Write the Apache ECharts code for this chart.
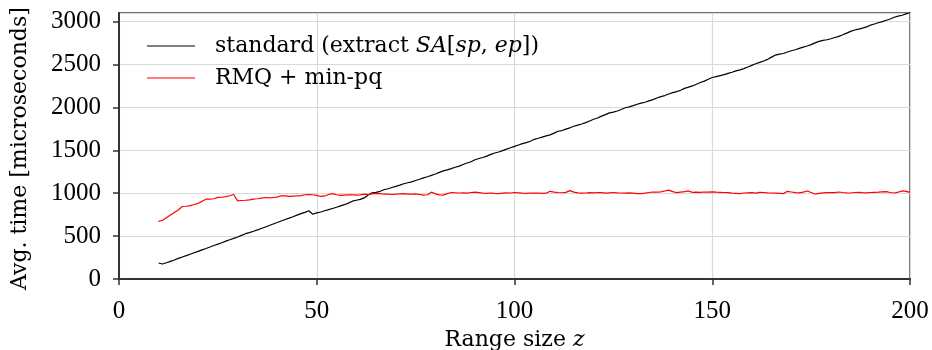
<!DOCTYPE html>
<html>
<head>
<meta charset="utf-8">
<script src="https://cdn.jsdelivr.net/npm/echarts@6/dist/echarts.min.js"></script>
<style>
  html, body { margin: 0; padding: 0; background: #fff; }
  #main { width: 932px; height: 350px; }
</style>
</head>
<body>
<div id="main"></div>
<script>
// range size z (x axis)
var rangeSize = [
  10, 11, 12, 13, 14, 15, 16, 17, 18, 19, 20, 21, 22, 23, 24, 25, 26, 27, 28, 29,
  30, 31, 32, 33, 34, 35, 36, 37, 38, 39, 40, 41, 42, 43, 44, 45, 46, 47, 48, 49,
  50, 51, 52, 53, 54, 55, 56, 57, 58, 59, 60, 61, 62, 63, 64, 65, 66, 67, 68, 69,
  70, 71, 72, 73, 74, 75, 76, 77, 78, 79, 80, 81, 82, 83, 84, 85, 86, 87, 88, 89,
  90, 91, 92, 93, 94, 95, 96, 97, 98, 99, 100, 101, 102, 103, 104, 105, 106, 107, 108, 109,
  110, 111, 112, 113, 114, 115, 116, 117, 118, 119, 120, 121, 122, 123, 124, 125, 126, 127, 128, 129,
  130, 131, 132, 133, 134, 135, 136, 137, 138, 139, 140, 141, 142, 143, 144, 145, 146, 147, 148, 149,
  150, 151, 152, 153, 154, 155, 156, 157, 158, 159, 160, 161, 162, 163, 164, 165, 166, 167, 168, 169,
  170, 171, 172, 173, 174, 175, 176, 177, 178, 179, 180, 181, 182, 183, 184, 185, 186, 187, 188, 189,
  190, 191, 192, 193, 194, 195, 196, 197, 198, 199, 200
];

// standard (extract SA[sp,ep])
var standardTime = [
  186, 175, 190, 206, 222, 240, 256, 272, 289, 306, 322, 340, 356, 373, 391, 407, 423, 441, 458, 474,
  490, 509, 528, 541, 556, 572, 589, 606, 623, 641, 658, 676, 693, 709, 726, 744, 762, 776, 795, 755,
  770, 781, 795, 808, 822, 836, 852, 866, 884, 907, 918, 928, 945, 980, 1005, 1010, 1022, 1040, 1052, 1066,
  1080, 1094, 1110, 1122, 1132, 1148, 1162, 1178, 1192, 1208, 1224, 1242, 1260, 1272, 1286, 1302, 1316, 1334, 1352, 1366,
  1390, 1404, 1416, 1432, 1452, 1468, 1480, 1496, 1514, 1530, 1546, 1562, 1578, 1590, 1606, 1628, 1640, 1654, 1668, 1680,
  1700, 1722, 1730, 1746, 1762, 1780, 1794, 1806, 1822, 1842, 1862, 1876, 1898, 1916, 1936, 1944, 1958, 1976, 1996, 2006,
  2020, 2036, 2050, 2060, 2076, 2090, 2110, 2126, 2138, 2156, 2172, 2184, 2200, 2222, 2236, 2250, 2270, 2290, 2306, 2328,
  2348, 2358, 2370, 2382, 2396, 2410, 2426, 2438, 2452, 2470, 2490, 2508, 2524, 2540, 2560, 2586, 2610, 2620, 2628, 2646,
  2660, 2672, 2688, 2702, 2716, 2732, 2752, 2770, 2780, 2788, 2800, 2814, 2828, 2846, 2866, 2886, 2902, 2912, 2924, 2938,
  2958, 2972, 2986, 3000, 3016, 3030, 3050, 3064, 3074, 3090, 3104
];

// RMQ + min-pq
var rmqTime = [
  672, 685, 715, 745, 775, 805, 845, 848, 855, 868, 882, 905, 930, 932, 935, 952, 953, 960, 970, 985,
  910, 915, 918, 923, 930, 935, 942, 950, 945, 950, 955, 970, 968, 962, 966, 968, 972, 982, 985, 982,
  975, 962, 968, 985, 995, 982, 975, 978, 980, 982, 978, 980, 990, 985, 992, 998, 995, 988, 990, 985,
  988, 992, 995, 990, 988, 992, 985, 978, 982, 1012, 992, 980, 978, 995, 1008, 1005, 1002, 1004, 1000, 1008,
  1012, 1006, 1000, 998, 1002, 998, 996, 1000, 1004, 1002, 1008, 1004, 1000, 998, 1002, 1000, 1002, 998, 1000, 1022,
  1012, 1008, 1005, 1010, 1030, 1012, 1004, 1000, 1002, 1006, 1004, 1008, 1006, 1000, 1004, 1008, 1004, 1002, 1000, 1004,
  1000, 996, 994, 1000, 1008, 1014, 1012, 1016, 1026, 1036, 1018, 1006, 1012, 1018, 1026, 1010, 1012, 1010, 1014, 1012,
  1016, 1012, 1010, 1008, 1006, 1000, 998, 996, 1002, 1004, 1006, 1000, 1010, 1008, 1004, 1002, 1000, 998, 995, 1022,
  1014, 1006, 1004, 1012, 1026, 1008, 990, 998, 1004, 1006, 1008, 1006, 1014, 1008, 1004, 1002, 1008, 1010, 1006, 1004,
  1008, 1010, 1012, 1016, 1018, 1008, 1002, 1012, 1026, 1022, 1010
];

var xTicks = [0, 50, 100, 150, 200];
var yTicks = [0, 500, 1000, 1500, 2000, 2500, 3000];

var serif = 'DejaVu Serif';
var digitFont = 'Liberation Serif';
var fsTick = 25;
var fs = 22;
var chart = echarts.init(document.getElementById('main'));

function pairs(ys) {
  return rangeSize.map(function (x, i) { return [x, ys[i]]; });
}

var option = {
  animation: false,
  grid: {
    left: 119,
    right: 22,
    top: 13,
    bottom: 71,
    outerBoundsMode: 'none',
    show: true,
    borderColor: '#444',
    borderWidth: 1.5
  },
  legend: {
    orient: 'vertical',
    left: 142,
    top: 27,
    icon: 'rect',
    itemWidth: 48,
    itemHeight: 1.2,
    itemGap: 4,
    data: ['standard', 'rmq'],
    formatter: function (name) {
      if (name === 'standard') {
        return 'standard (extract {i|SA}[{i|sp}, {i|ep}])';
      }
      return 'RMQ + min-pq';
    },
    textStyle: {
      fontFamily: serif,
      fontSize: fs,
      lineHeight: 28,
      color: '#000',
      padding: [0, 0, 0, 15],
      rich: {
        i: { fontFamily: serif, fontStyle: 'italic', fontSize: fs, color: '#000' }
      }
    }
  },
  xAxis: {
    type: 'value',
    min: xTicks[0],
    max: xTicks[xTicks.length - 1],
    interval: 50,
    name: 'Range size {i|z}',
    nameLocation: 'middle',
    nameGap: 45,
    nameTextStyle: {
      fontFamily: serif,
      fontSize: fs,
      color: '#000',
      rich: {
        i: { fontFamily: serif, fontStyle: 'italic', fontSize: fs, color: '#000' }
      }
    },
    axisLine: { onZero: false, lineStyle: { color: '#333', width: 2 } },
    axisTick: { show: true, length: 6, lineStyle: { color: '#333', width: 1.5 } },
    axisLabel: { fontFamily: digitFont, fontSize: fsTick, color: '#000', margin: 20 },
    splitLine: { show: true, lineStyle: { color: '#d9d9d9', width: 1.2 } }
  },
  yAxis: {
    type: 'value',
    min: yTicks[0],
    max: 3100,
    interval: 500,
    axisLine: { show: true, lineStyle: { color: '#333', width: 2 } },
    axisTick: { show: true, length: 6, lineStyle: { color: '#333', width: 1.5 } },
    axisLabel: { fontFamily: digitFont, fontSize: fsTick, color: '#000', margin: 18, showMaxLabel: false,
      formatter: function (v) { return yTicks.indexOf(v) >= 0 ? String(v) : ''; } },
    splitLine: { show: true, lineStyle: { color: '#d9d9d9', width: 1.2 } }
  },
  series: [
    {
      name: 'standard',
      type: 'line',
      symbol: 'none',
      data: pairs(standardTime),
      lineStyle: { color: '#000', width: 1.2 },
      itemStyle: { color: '#000' }
    },
    {
      name: 'rmq',
      type: 'line',
      symbol: 'none',
      data: pairs(rmqTime),
      lineStyle: { color: '#ff0000', width: 1.2 },
      itemStyle: { color: '#ff0000' }
    }
  ],
  graphic: [{
    type: 'text',
    x: 20,
    y: 290,
    rotation: Math.PI / 2,
    style: {
      text: 'Avg. time [microseconds]',
      fontFamily: serif,
      fontSize: fs,
      fill: '#000',
      textAlign: 'left',
      textVerticalAlign: 'middle'
    }
  }]
};

chart.setOption(option);
</script>
</body>
</html>
